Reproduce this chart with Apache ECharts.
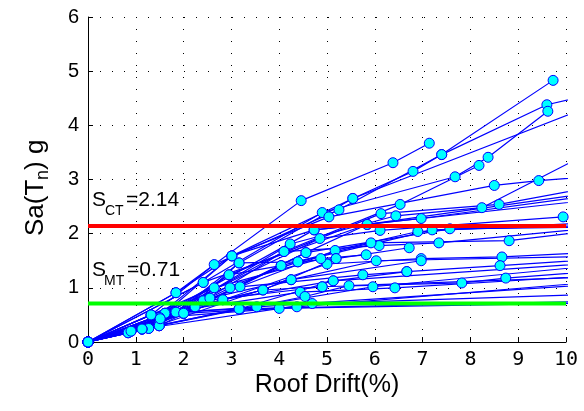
<!DOCTYPE html>
<html><head><meta charset="utf-8">
<script src="https://cdn.jsdelivr.net/npm/echarts@6/dist/echarts.min.js"></script>
<style>html,body{margin:0;padding:0;background:#fff}#c{width:584px;height:411px}</style>
</head><body><div id="c"></div>
<script>
// ---- data ----
const xTicks = [0,1,2,3,4,5,6,7,8,9,10];
const yTicks = [0,1,2,3,4,5,6];
const sCT = 2.14;
const sMT = 0.71;
const c01 = [[0,0],[1.84,0.91],[4.46,2.61],[6.38,3.31],[7.14,3.67]];
const c02 = [[0,0],[1.61,0.53],[3.01,1.59],[5.54,2.65],[6.8,3.15],[7.4,3.46],[9.73,4.83]];
const c03 = [[0,0],[1.32,0.5],[2.64,1.43],[5.25,2.44],[7.4,3.46],[9.6,4.38],[10.5,4.56]];
const c04 = [[0,0],[2.41,1.1],[4.9,2.39],[7.68,3.05],[8.37,3.41],[9.62,4.26]];
const c05 = [[0,0],[2.0,0.53],[4.1,1.67],[6.53,2.54],[8.18,3.26]];
const c06 = [[0,0],[1.49,0.3],[3.16,1.46],[5.54,2.65],[10.5,4.35]];
const c07 = [[0,0],[1.13,0.24],[3.01,1.59],[5.04,2.31],[8.5,2.89],[9.43,2.98],[10.5,3.05]];
const c08 = [[0,0],[1.5,0.35],[2.95,1.24],[6.13,2.37],[8.6,2.54],[10.5,2.85]];
const c09 = [[0,0],[1.27,0.25],[4.23,1.81],[6.44,2.33],[8.24,2.48],[10.5,3.5]];
const c10 = [[0,0],[0.9,0.2],[4.73,2.07],[6.97,2.28],[10.5,2.7]];
const c11 = [[0,0],[1.61,0.53],[4.85,1.91],[6.11,2.06],[9.94,2.31]];
const c12 = [[0,0],[2.24,0.65],[4.56,1.65],[5.84,2.17],[10.5,2.62]];
const c13 = [[0,0],[1.51,0.43],[3.18,1.02],[5.17,1.69],[6.9,2.04],[10.5,2.2]];
const c14 = [[0,0],[1.32,0.5],[4.39,1.48],[7.2,2.07],[10.5,2.15]];
const c15 = [[0,0],[2.0,0.53],[4.56,1.65],[7.57,2.09],[10.5,2.12]];
const c16 = [[0,0],[1.13,0.24],[4.1,1.67],[6.09,1.78],[7.34,1.83],[10.5,2.1]];
const c17 = [[0,0],[1.49,0.3],[4.04,1.41],[5.92,1.83],[8.81,1.87],[10.5,2.05]];
const c18 = [[0,0],[1.61,0.53],[3.66,0.96],[5.19,1.54],[6.72,1.74]];
const c19 = [[0,0],[0.84,0.17],[5.0,1.44],[6.97,1.54],[8.66,1.57],[10.5,1.65]];
const c20 = [[0,0],[1.27,0.25],[4.25,1.15],[6.03,1.5],[10.5,1.58]];
const c21 = [[0,0],[1.5,0.35],[2.97,1.0],[5.75,1.24],[6.67,1.3],[8.62,1.41],[10.5,1.52]];
const c22 = [[0,0],[2.41,0.76],[4.9,1.02],[7.82,1.09],[8.74,1.18],[10.5,1.3]];
const c23 = [[0,0],[1.13,0.24],[2.82,0.78],[5.13,1.13],[10.5,1.45]];
const c24 = [[0,0],[0.9,0.2],[3.16,0.61],[5.96,1.02],[10.5,1.4]];
const c25 = [[0,0],[1.32,0.5],[4.44,0.92],[6.42,1.0],[10.5,1.22]];
const c26 = [[0,0],[1.49,0.3],[4.54,0.84],[5.46,1.04],[10.5,1.2]];
const c27 = [[0,0],[2.0,0.53],[4.37,0.65],[10.5,1.1]];
const c28 = [[0,0],[1.61,0.53],[3.53,0.65],[10.5,1.06]];
const c29 = [[0,0],[1.13,0.24],[4.69,0.71],[10.5,0.88]];
const c30 = [[0,0],[1.84,0.55],[3.18,0.61],[10.5,0.75]];
const c31 = [[0,0],[1.5,0.45],[4.0,0.62],[10.5,0.72]];
const c32 = [[0,0],[2.41,1.1],[5.84,2.17],[10.5,2.75]];
const c33 = [[0,0],[1.32,0.5],[2.64,1.0],[4.87,1.54],[5.82,1.61]];
const c34 = [[0,0],[0.84,0.17],[2.55,0.81],[4.25,1.15],[6.97,1.5]];
const c35 = [[0,0],[1.13,0.24],[3.16,0.61],[5.13,1.13],[6.67,1.3]];
const c36 = [[0,0],[0.9,0.2],[2.82,0.78],[3.66,0.96],[4.9,1.02]];
const c37 = [[0,0],[2.0,0.53],[3.16,1.46],[4.39,1.48],[5.19,1.54]];
const c38 = [[0,0],[1.51,0.43],[2.95,1.24],[4.04,1.41]];
const c39 = [[0,0],[1.84,0.91],[3.01,1.59],[4.73,2.07],[5.84,2.17]];
const curves = [c01,c02,c03,c04,c05,c06,c07,c08,c09,c10,c11,c12,c13,c14,c15,c16,c17,c18,c19,c20,
  c21,c22,c23,c24,c25,c26,c27,c28,c29,c30,c31,c32,c33,c34,c35,c36,c37,c38,c39];

// ---- chart ----
const chart = echarts.init(document.getElementById('c'), null, {renderer:'canvas'});
const dotted = {color:'#000', width:1, type:[1,11]};
const series = curves.map(d => ({
  type:'line', data:d, clip:true, showAllSymbol:true,
  symbol:'circle', symbolSize:10, z:2,
  lineStyle:{color:'#0000ff', width:1.2},
  itemStyle:{color:'#00ffff', borderColor:'#0000ff', borderWidth:1},
  emphasis:{disabled:true}
}));
series.push({type:'line', data:[[0,sCT],[10,sCT]], symbol:'none', z:5,
  lineStyle:{color:'#ff0000', width:4}});
series.push({type:'line', data:[[0,sMT],[10,sMT]], symbol:'none', z:5,
  lineStyle:{color:'#00ff00', width:4}});

const ff = 'Liberation Sans, Arial, sans-serif';
function txt(x, y, s, size){
  return {type:'text', left:x, top:y, z:10,
    style:{text:s, font: size+'px '+ff, fill:'#000'}};
}
chart.setOption({
  animation:false,
  grid:{left:88, right:18, top:17, bottom:69, containLabel:false},
  xAxis:{type:'value', min:xTicks[0], max:xTicks[xTicks.length-1], interval:1,
    axisLine:{lineStyle:{color:'#000', width:1}},
    axisTick:{inside:true, length:5, lineStyle:{color:'#000'}},
    axisLabel:{color:'#000', fontSize:20, fontFamily:'DejaVu Sans Mono', margin:8},
    splitLine:{show:true, lineStyle:dotted}},
  yAxis:{type:'value', min:yTicks[0], max:yTicks[yTicks.length-1], interval:1,
    axisLine:{show:true, lineStyle:{color:'#000', width:1}},
    axisTick:{show:true, inside:true, length:5, lineStyle:{color:'#000'}},
    axisLabel:{color:'#000', fontSize:20, fontFamily:ff, margin:9},
    splitLine:{show:true, lineStyle:dotted}},
  series:series,
  graphic:[
    txt(92,190,'S',21), txt(105,204,'CT',14), txt(126,190,'=2.14',21),
    txt(92,260,'S',21), txt(104,274,'MT',14), txt(127,260,'=0.71',21),
    {type:'text', x:327, y:373, z:10,
      style:{text:'Roof Drift(%)', font:'25px '+ff, fill:'#000', textAlign:'center'}},
    {type:'group', x:36, y:236, rotation:Math.PI/2, z:10, children:[
      {type:'text', x:0, y:0, style:{text:'Sa(T', font:'26px '+ff, fill:'#000', textVerticalAlign:'middle'}},
      {type:'text', x:56, y:7, style:{text:'n', font:'18px '+ff, fill:'#000', textVerticalAlign:'middle'}},
      {type:'text', x:66, y:0, style:{text:') g', font:'26px '+ff, fill:'#000', textVerticalAlign:'middle'}}
    ]}
  ]
});
</script></body></html>
